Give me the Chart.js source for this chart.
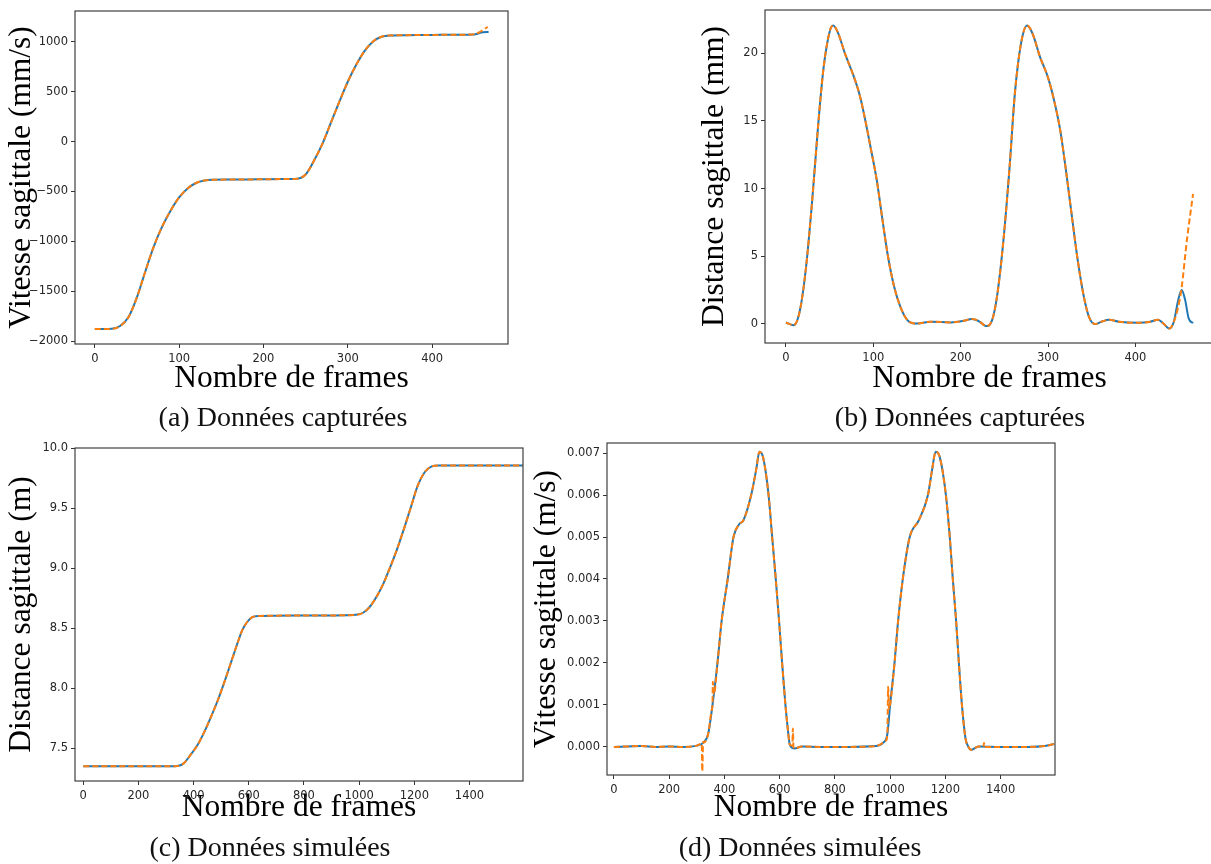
<!DOCTYPE html>
<html>
<head>
<meta charset="utf-8">
<script src="https://cdn.jsdelivr.net/npm/chart.js@4.4.0/dist/chart.umd.min.js"></script>
<style>
  body { margin: 0; width: 1211px; height: 864px; overflow: hidden; background: #fff; position: relative; }
  canvas { position: absolute; left: 0; top: 0; }
  .cap { position: absolute; font-family: 'Liberation Serif', serif; font-size: 28px; color: #111;
         transform: translateX(-50%); white-space: nowrap; line-height: 1; }
</style>
</head>
<body>
<canvas id="chartA" width="1240" height="864"></canvas>
<canvas id="chartB" width="1240" height="864"></canvas>
<canvas id="chartC" width="1240" height="864"></canvas>
<canvas id="chartD" width="1240" height="864"></canvas>
<div class="cap" style="left:283px;top:403px">(a) Données capturées</div>
<div class="cap" style="left:960px;top:403px">(b) Données capturées</div>
<div class="cap" style="left:270px;top:833px">(c) Données simulées</div>
<div class="cap" style="left:800px;top:833px">(d) Données simulées</div>
<script>
// (a) vitesse sagittale, données capturées (mm/s)
const aFrames = [0, 10, 20, 30, 40, 50, 60, 70, 80, 90, 100, 110, 120, 130, 140, 160, 180, 200, 220, 240,
  250, 260, 270, 280, 290, 300, 310, 320, 330, 340, 350, 370, 400, 430, 450, 455, 460, 467];
const aMesure = [-1880, -1880, -1878, -1850, -1760, -1560, -1300, -1050, -850, -690, -560, -470, -415, -390, -383,
  -381, -380, -378, -376, -372, -330, -190, -20, 190, 400, 600, 770, 910, 1005, 1052, 1065, 1068, 1070, 1072,
  1075, 1085, 1098, 1100];
const aFitFrames = [0, 10, 20, 30, 40, 50, 60, 70, 80, 90, 100, 110, 120, 130, 140, 160, 180, 200, 220, 240,
  250, 260, 270, 280, 290, 300, 310, 320, 330, 340, 350, 370, 400, 430, 450, 455, 460, 466];
const aFit = [-1880, -1880, -1878, -1850, -1760, -1560, -1300, -1050, -850, -690, -560, -470, -415, -390, -383,
  -381, -380, -378, -376, -372, -330, -190, -20, 190, 400, 600, 770, 910, 1005, 1052, 1065, 1068, 1070, 1072,
  1076, 1092, 1118, 1150];
const aXTicks = [0, 100, 200, 300, 400];
const aYTicks = [-2000, -1500, -1000, -500, 0, 500, 1000];

// (b) distance sagittale, données capturées (mm)
const bFrames = [0, 9, 16, 23, 30, 37, 43, 50, 54, 59, 68, 77, 84, 90, 97, 104, 110, 117, 124, 131, 139, 148,
  166, 189, 202, 213, 222, 229, 236, 242, 249, 256, 262, 269, 276, 282, 291, 300, 307, 314, 320, 327, 334, 341,
  347, 354, 361, 370, 381, 403, 417, 426, 432, 439, 444, 449, 453, 457, 461, 466];
const bMesure = [0.1, -0.1, 1.0, 4.2, 9.1, 14.8, 18.9, 21.6, 22.05, 21.6, 19.9, 18.4, 17.0, 15.3, 13.0, 10.6,
  7.9, 4.9, 2.7, 1.25, 0.27, 0.02, 0.15, 0.1, 0.2, 0.35, 0.15, -0.17, 0.27, 2.2, 6.2, 11.6, 17.0, 20.7, 22.06,
  21.5, 19.7, 18.2, 16.5, 14.3, 11.6, 8.1, 4.7, 2.0, 0.5, -0.02, 0.15, 0.3, 0.15, 0.07, 0.15, 0.3, 0.02, -0.35,
  0.15, 1.75, 2.5, 1.75, 0.4, 0.05];
const bFitTailFrames = [449, 453, 459, 466];
const bFitTail = [1.25, 2.7, 6.2, 9.6];
const bXTicks = [0, 100, 200, 300, 400];
const bYTicks = [0, 5, 10, 15, 20];

// (c) distance sagittale, données simulées (m)
const cFrames = [0, 100, 200, 300, 340, 363, 388, 413, 438, 463, 488, 513, 538, 563, 576, 594, 613, 638, 700,
  800, 900, 988, 1013, 1038, 1063, 1088, 1113, 1138, 1163, 1188, 1213, 1238, 1263, 1288, 1400, 1500, 1594];
const cSimule = [7.347, 7.347, 7.347, 7.347, 7.35, 7.37, 7.44, 7.52, 7.63, 7.76, 7.90, 8.06, 8.23, 8.40, 8.48,
  8.55, 8.59, 8.60, 8.603, 8.604, 8.605, 8.61, 8.625, 8.675, 8.76, 8.87, 9.01, 9.16, 9.33, 9.51, 9.69, 9.80,
  9.847, 9.855, 9.855, 9.855, 9.855];
const cXTicks = [0, 200, 400, 600, 800, 1000, 1200, 1400];
const cYTicks = [7.5, 8.0, 8.5, 9.0, 9.5, 10.0];

// (d) vitesse sagittale, données simulées (m/s)
const dFrames = [0, 50, 100, 150, 200, 250, 300, 324, 341, 357, 375, 390, 412, 433, 453, 469, 497, 515, 527, 540,
  560, 573, 586, 598, 609, 621, 630, 637, 654, 680, 750, 850, 950, 975, 990, 1000, 1016, 1029, 1046, 1071, 1104,
  1137, 1152, 1165, 1180, 1202, 1216, 1227, 1239, 1249, 1260, 1273, 1282, 1293, 1320, 1400, 1500, 1560, 1594];
const dSimule = [0, 0.00001, 0.00002, 0, 0.00001, 0, 0.00003, 0.0001, 0.0003, 0.001, 0.002, 0.003, 0.004, 0.005,
  0.0053, 0.0054, 0.006, 0.0066, 0.00703, 0.0069, 0.006, 0.005, 0.004, 0.003, 0.002, 0.001, 0.0004, 0.00005,
  -0.00004, 0.00001, 0, 0, 0.00002, 0.0001, 0.0003, 0.001, 0.002, 0.003, 0.004, 0.005, 0.0054, 0.006, 0.0066,
  0.00703, 0.0069, 0.006, 0.005, 0.004, 0.003, 0.002, 0.001, 0.0002, 0.00002, -0.00007, 0.00001, 0, 0, 0.00002,
  0.00007];
const dSpikeFrames = [318, 320, 323, 355, 358, 362, 646, 648, 650, 985, 993, 996, 1338, 1340, 1342];
const dSpikes = [0.00008, -0.00058, 0.00012, 0.0009, 0.00155, 0.00125, 0.00003, 0.00044, 0.0, 0.00015, 0.00143,
  0.0009, 0.0, 0.0001, 0.0];
const dXTicks = [0, 200, 400, 600, 800, 1000, 1200, 1400];
const dYTicks = [0, 0.001, 0.002, 0.003, 0.004, 0.005, 0.006, 0.007];

const BLUE = '#1f77b4';
const ORANGE = '#ff7f0e';
const W = 1240, H = 864;

function pts(xs, ys) {
  return xs.map((x, i) => ({ x: x, y: ys[i] }));
}

const frame = {
  id: 'frame',
  afterDraw(chart) {
    const { ctx, chartArea: a } = chart;
    ctx.save();
    ctx.strokeStyle = '#404040';
    ctx.lineWidth = 1.2;
    ctx.strokeRect(a.left, a.top, a.right - a.left, a.bottom - a.top);
    ctx.restore();
  }
};

function minus(s) {
  return String(s).replace('-', '\u2212');
}

function panel(id, cfg) {
  const lh = 31.5;          // taille des titres d'axes
  const box = cfg.box;
  const yW = box.l - cfg.yTitleX + lh / 2 + 3;
  const xH = cfg.xTitleY + lh / 2 + 3 - box.b;
  const tickFont = { family: 'DejaVu Sans', size: 11.5 };
  const titleFont = { family: 'Liberation Serif', size: lh, lineHeight: 1 };
  const grid = { display: true, drawOnChartArea: false, drawTicks: true, tickLength: 4, tickColor: '#333', tickWidth: 1 };

  new Chart(document.getElementById(id), {
    type: 'line',
    data: {
      datasets: [
        { data: cfg.fit, borderColor: ORANGE, borderWidth: 2, borderDash: [6, 3], order: 0 },
        { data: cfg.mesure, borderColor: BLUE, borderWidth: 2, order: 1 }
      ]
    },
    options: {
      responsive: false,
      animation: false,
      devicePixelRatio: 1,
      layout: { padding: { left: box.l - yW, top: box.t, right: W - box.r, bottom: H - box.b - xH } },
      elements: { point: { radius: 0 }, line: { cubicInterpolationMode: 'monotone' } },
      plugins: { legend: { display: false }, tooltip: { enabled: false } },
      scales: {
        x: {
          type: 'linear', min: cfg.xMin, max: cfg.xMax,
          afterFit(s) { s.height = xH; },
          afterBuildTicks(s) { s.ticks = cfg.xTicks.map(v => ({ value: v })); },
          border: { display: false },
          grid: grid,
          ticks: { autoSkip: false, maxRotation: 0, font: tickFont, color: '#262626', padding: 4,
                   callback: v => minus(v) },
          title: { display: true, text: 'Nombre de frames', font: titleFont, color: '#000',
                   padding: { top: 0, bottom: 3 } }
        },
        y: {
          type: 'linear', min: cfg.yMin, max: cfg.yMax,
          afterFit(s) { s.width = yW; },
          afterBuildTicks(s) { s.ticks = cfg.yTicks.map(v => ({ value: v })); },
          border: { display: false },
          grid: grid,
          ticks: { autoSkip: false, font: tickFont, color: '#262626', padding: 3,
                   callback: v => minus(v.toFixed(cfg.yDigits)) },
          title: { display: true, text: cfg.yTitle, font: titleFont, color: '#000',
                   padding: { top: 3, bottom: 0 } }
        }
      }
    },
    plugins: [frame]
  });
}

panel('chartA', {
  box: { l: 75, t: 11, r: 508, b: 344 }, yTitleX: 22, xTitleY: 379,
  xMin: -23.5, xMax: 490, yMin: -2030, yMax: 1310, xTicks: aXTicks, yTicks: aYTicks,
  yDigits: 0, yTitle: 'Vitesse sagittale (mm/s)',
  mesure: pts(aFrames, aMesure), fit: pts(aFitFrames, aFit)
});

const bFitBody = bFrames.filter(f => f <= 444);
panel('chartB', {
  box: { l: 765, t: 10, r: 1214, b: 343 }, yTitleX: 715, xTitleY: 379,
  xMin: -24, xMax: 490, yMin: -1.42, yMax: 23.2, xTicks: bXTicks, yTicks: bYTicks,
  yDigits: 0, yTitle: 'Distance sagittale (mm)',
  mesure: pts(bFrames, bMesure),
  fit: pts(bFitBody.concat(bFitTailFrames), bMesure.slice(0, bFitBody.length).concat(bFitTail))
});

panel('chartC', {
  box: { l: 75, t: 448, r: 523, b: 781 }, yTitleX: 22, xTitleY: 808,
  xMin: -30, xMax: 1594, yMin: 7.225, yMax: 10.0, xTicks: cXTicks, yTicks: cYTicks,
  yDigits: 1, yTitle: 'Distance sagittale (m)',
  mesure: pts(cFrames, cSimule), fit: pts(cFrames, cSimule)
});

const dFit = pts(dFrames, dSimule).concat(pts(dSpikeFrames, dSpikes)).sort((p, q) => p.x - q.x);
panel('chartD', {
  box: { l: 607, t: 443, r: 1055, b: 775 }, yTitleX: 547, xTitleY: 808,
  xMin: -25, xMax: 1597, yMin: -0.00067, yMax: 0.00724, xTicks: dXTicks, yTicks: dYTicks,
  yDigits: 3, yTitle: 'Vitesse sagittale (m/s)',
  mesure: pts(dFrames, dSimule), fit: dFit
});
</script>
</body>
</html>
